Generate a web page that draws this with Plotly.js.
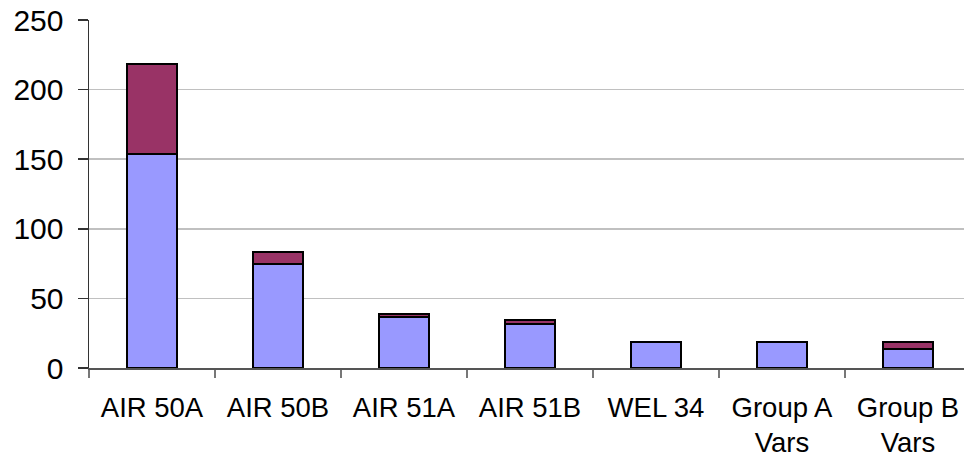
<!DOCTYPE html>
<html><head><meta charset="utf-8">
<script src="https://cdn.plot.ly/plotly-3.0.1.min.js"></script>
<style>html,body{margin:0;padding:0;overflow:hidden;background:#fff;}#chart{width:980px;height:458px;}</style>
</head><body><div id="chart"></div>
<script>
const categories = ["AIR 50A", "AIR 50B", "AIR 51A", "AIR 51B", "WEL 34", "Group A<br>Vars", "Group B<br>Vars"];
const seriesBlue = [154, 74.5, 36.8, 31.3, 18.7, 18.7, 13.7];
const seriesRed = [64.7, 8.9, 1.7, 3.1, 0, 0, 5];
const yTicks = [0, 50, 100, 150, 200, 250];

const traces = [
  {type: "bar", x: categories, y: seriesBlue, name: "Series 1",
   marker: {color: "#9999FF", line: {color: "#000", width: 2}}},
  {type: "bar", x: categories, y: seriesRed, name: "Series 2",
   marker: {color: "#993366", line: {color: "#000", width: 2}}}
];
const layout = {
  width: 980, height: 458,
  margin: {l: 89, r: 9, t: 20, b: 90},
  barmode: "stack", bargap: 0.6,
  showlegend: false,
  paper_bgcolor: "#fff", plot_bgcolor: "#fff",
  font: {family: "Liberation Sans, Arial, sans-serif", color: "#000"},
  xaxis: {type: "category", showline: true, linecolor: "#555", linewidth: 1.5,
    ticks: "outside", tickson: "boundaries", ticklen: 8, tickcolor: "#777", tickwidth: 1.5,
    ticklabelstandoff: 14,
    tickfont: {size: 27.5}, showgrid: false, zeroline: false, fixedrange: true},
  yaxis: {range: [0, 250], tickvals: yTicks, ticktext: yTicks.map(String),
    showline: true, linecolor: "#333", linewidth: 1.5,
    ticks: "outside", ticklen: 10, tickcolor: "#333", tickwidth: 1.5,
    ticklabelstandoff: 8,
    tickfont: {size: 30}, showgrid: true, gridcolor: "#c0c0c0", gridwidth: 1.5,
    zeroline: false, fixedrange: true}
};
Plotly.newPlot("chart", traces, layout, {staticPlot: true, displayModeBar: false});
</script></body></html>
